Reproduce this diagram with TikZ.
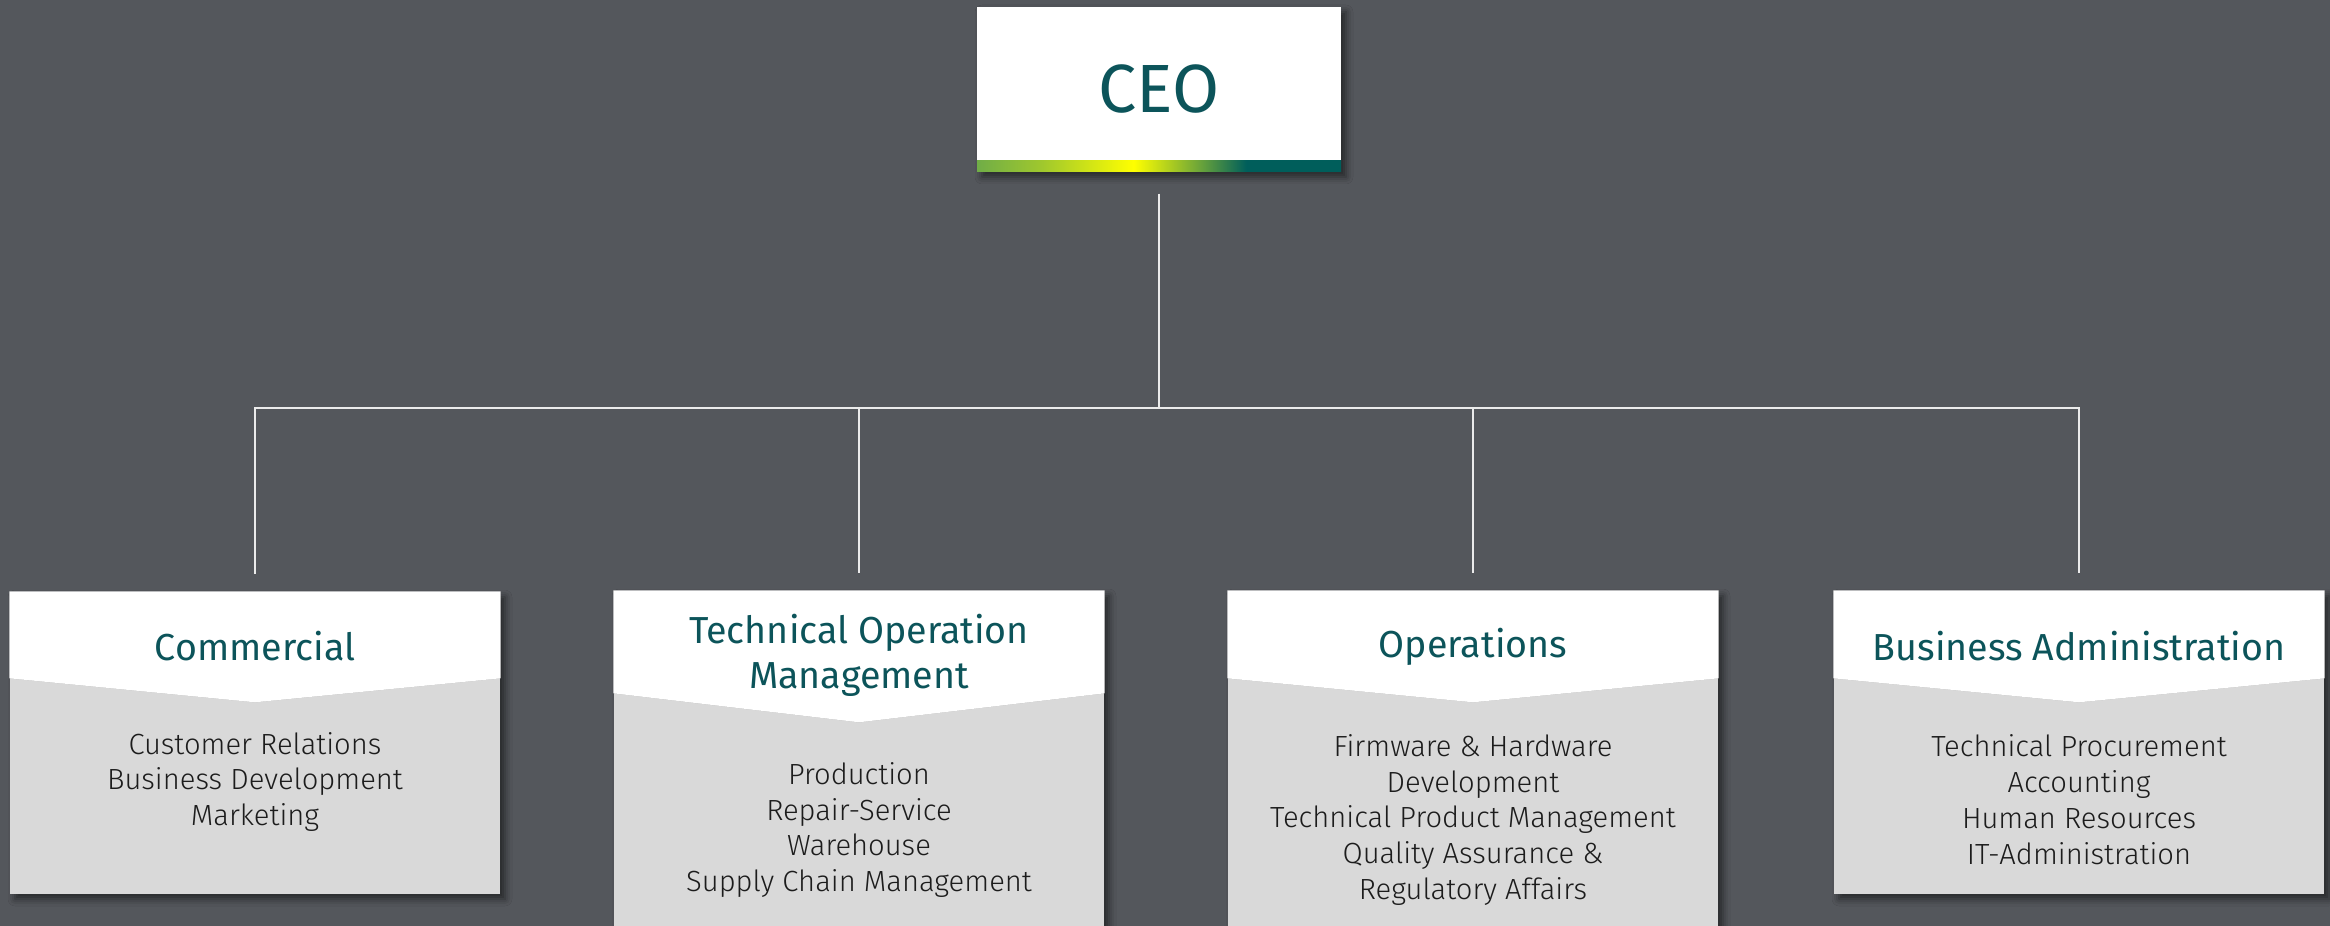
\documentclass[tikz,border=0pt]{standalone}
\usepackage{fontspec}
\setmainfont{Fira Sans}
\newfontfamily\lightfont{Fira Sans Light}
\usetikzlibrary{shadows.blur}

\definecolor{bggray}{RGB}{84,87,92}
\definecolor{boxgray}{RGB}{217,217,217}
\definecolor{titleteal}{RGB}{12,84,90}
\definecolor{listblack}{RGB}{28,28,28}
\definecolor{linewhite}{RGB}{235,235,235}
\definecolor{bargreen}{RGB}{112,173,71}
\definecolor{barlime}{RGB}{160,200,45}
\definecolor{baryellow}{RGB}{255,255,0}
\definecolor{barolive}{RGB}{100,160,60}
\definecolor{barteal}{RGB}{0,94,91}

\pgfdeclarehorizontalshading{ceobar}{100bp}{color(0bp)=(bargreen); color(25bp)=(bargreen); color(34bp)=(barlime); color(46.5bp)=(baryellow); color(56bp)=(barolive); color(62bp)=(barteal); color(75bp)=(barteal); color(100bp)=(barteal)}

\tikzset{
  boxshadow/.style={blur shadow={shadow xshift=.5mm, shadow yshift=-.5mm, shadow blur radius=.7mm, shadow opacity=55}},
  ceobox/.style={rectangle, fill=white, inner sep=0pt, minimum width=36.4mm, minimum height=16.5mm,
    text=titleteal, font=\fontsize{19.4}{23}\selectfont, boxshadow,
    path picture={\shade[shading=ceobar] ([yshift=1.1mm]path picture bounding box.south west) rectangle (path picture bounding box.south east);}},
  deptbox/.style={rectangle, fill=boxgray, inner sep=0pt, minimum width=49mm, boxshadow},
  header/.style={fill=white},
  headshade/.style={fill=black, fill opacity=.028},
  depttitle/.style={text=titleteal, align=center, font=\fontsize{10.7}{12.8}\selectfont},
  deptlist/.style={text=listblack, align=center, font=\lightfont\fontsize{8.3}{10.24}\selectfont},
  link/.style={draw=linewhite, line width=.2mm},
}

% header of a department box: #1 box, #2 side depth, #3 tip depth
\newcommand{\depthead}[3]{%
  \begin{scope}
    \clip (#1.north west) rectangle (#1.south east);
    \foreach \s in {16,14,...,2}
      \fill[headshade, yshift=-\s*.1mm] (#1.north west) -- (#1.north east) -- ([yshift=-#2]#1.north east) -- ([yshift=-#3]#1.north) -- ([yshift=-#2]#1.north west) -- cycle;
    \fill[header] (#1.north west) -- (#1.north east) -- ([yshift=-#2]#1.north east) -- ([yshift=-#3]#1.north) -- ([yshift=-#2]#1.north west) -- cycle;
  \end{scope}}

\begin{document}
\begin{tikzpicture}[x=.1mm, y=-.1mm]
    % background
    \useasboundingbox (0,0) rectangle (2330,926);
    \clip (0,0) rectangle (2330,926);
    \fill[bggray] (0,0) rectangle (2330,926);
    % top
    \node[ceobox] (ceo) at (1159,89.5) {CEO};
    % departments
    \node[deptbox, minimum height=30.2mm] (com) at (255,743) {};
    \node[deptbox, minimum height=40mm] (tom) at (859,791) {};
    \node[deptbox, minimum height=40mm] (ops) at (1473,791) {};
    \node[deptbox, minimum height=30.3mm] (bad) at (2079,742.5) {};
    % headers
    \depthead{com}{8.7mm}{11.1mm}
    \depthead{tom}{10.3mm}{13.2mm}
    \depthead{ops}{8.8mm}{11.2mm}
    \depthead{bad}{8.8mm}{11.2mm}
    % titles
    \node[depttitle] (comtitle) at (255,646) {Commercial};
    \node[depttitle] (tomtitle) at (859,655) {Technical Operation\\Management};
    \node[depttitle] (opstitle) at (1473,647) {Operations};
    \node[depttitle] (badtitle) at (2079,646) {Business Administration};
    % lists
    \node[deptlist] (comlist) at (255,782) {Customer Relations\\Business Development\\Marketing};
    \node[deptlist] (tomlist) at (859,830) {Production\\Repair-Service\\Warehouse\\Supply Chain Management};
    \node[deptlist] (opslist) at (1473,820) {Firmware \& Hardware\\Development\\Technical Product Management\\Quality Assurance \&\\Regulatory Affairs};
    \node[deptlist] (badlist) at (2079,800) {Technical Procurement\\Accounting\\Human Resources\\IT-Administration};
    % links
    \coordinate (bus) at (ceo.south |- 0,408);
    \draw[link, shorten <=2.1mm] (ceo.south) -- (bus);
    \foreach \d in {com,tom,ops,bad}
      \draw[link, shorten >=1.7mm] (bus) -| (\d.north);
\end{tikzpicture}
\end{document}
